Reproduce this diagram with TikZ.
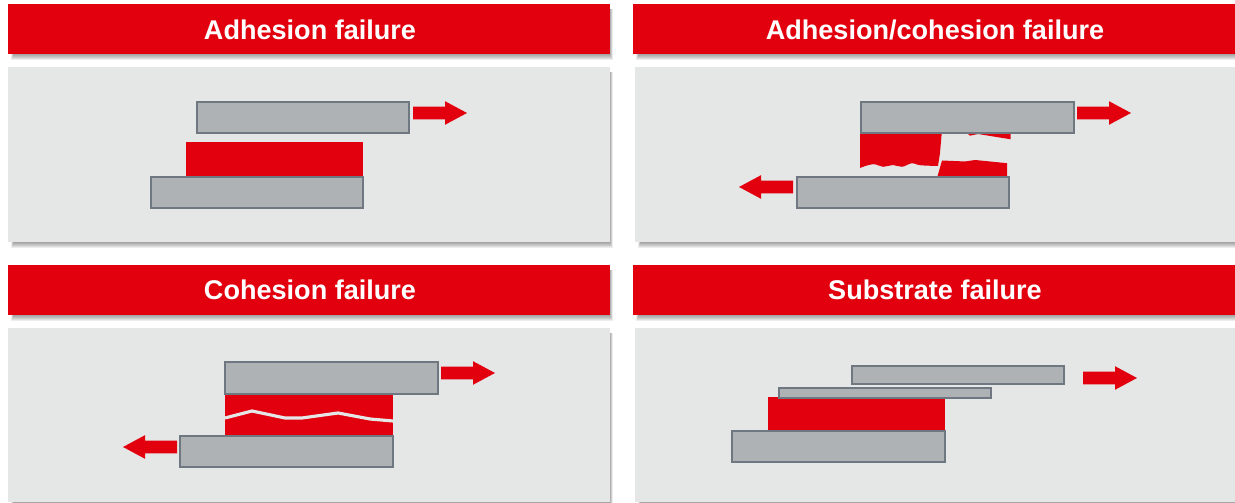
\documentclass[tikz,border=0pt]{standalone}
\usepackage{fontspec}
\setmainfont{Liberation Sans}
\definecolor{adhred}{HTML}{E2000F}
\definecolor{panelgray}{HTML}{E5E7E6}
\definecolor{barfill}{HTML}{AEB2B5}
\definecolor{baredge}{HTML}{6F7880}
\tikzset{
  titletext/.style={text=white, font=\fontsize{7.7}{9}\selectfont\bfseries},
  substrate/.style={fill=barfill, draw=baredge, line width=0.5pt},
  glue/.style={fill=adhred, draw=none},
  crack/.style={draw=panelgray, line width=0.9pt},
}
% soft shadow, then the box on top
\newcommand{\shadowbox}[5]{
  \foreach \i in {1,...,6}
    \fill [black, opacity=0.07] (#1+0.03+0.004*\i,#2+0.05) rectangle (#3+0.036-0.006*\i,#4+0.066-0.01*\i);
  \fill [#5] (#1,#2) rectangle (#3,#4);
}
% x, y of the tip, direction (1 points right, -1 left)
\newcommand{\pullarrow}[3]{
  \fill [adhred, shift={(#1,#2)}, xscale=#3] (0,0) -- (-0.22,-0.118) -- (-0.22,-0.063) -- (-0.54,-0.063) -- (-0.54,0.063) -- (-0.22,0.063) -- (-0.22,0.118) -- cycle;
}
\begin{document}
\begin{tikzpicture}[y=-1cm]
\useasboundingbox (0,0) rectangle (12.35,5.03);

% headers
\shadowbox{0.08}{0.04}{6.10}{0.54}{adhred}
\shadowbox{6.33}{0.04}{12.35}{0.54}{adhred}
\shadowbox{0.08}{2.65}{6.10}{3.15}{adhred}
\shadowbox{6.33}{2.65}{12.35}{3.15}{adhred}
\node [titletext] (adhesion) at (3.10,0.30) {Adhesion failure};
\node [titletext] (mixed) at (9.35,0.30) {Adhesion/cohesion failure};
\node [titletext] (cohesion) at (3.10,2.90) {Cohesion failure};
\node [titletext] (substr) at (9.35,2.90) {Substrate failure};

% panels
\shadowbox{0.08}{0.67}{6.10}{2.42}{panelgray}
\shadowbox{6.35}{0.67}{12.35}{2.42}{panelgray}
\shadowbox{0.08}{3.28}{6.10}{5.02}{panelgray}
\shadowbox{6.35}{3.28}{12.35}{5.02}{panelgray}

% adhesion
\fill [glue] (1.86,1.42) rectangle (3.63,1.77);
\draw [substrate] (1.97,1.02) rectangle (4.09,1.33);
\draw [substrate] (1.51,1.77) rectangle (3.63,2.08);
\pullarrow{4.67}{1.13}{1}

% adhesion/cohesion
\fill [glue] (8.60,1.30) -- (9.42,1.30) -- (9.40,1.53) -- (9.38,1.66) -- plot[smooth, tension=.7] coordinates {(9.38,1.66) (9.20,1.652) (9.12,1.632) (9.02,1.668) (8.93,1.65) (8.83,1.668) (8.73,1.642) (8.60,1.68)} -- cycle;
\fill [glue] (9.65,1.30) -- (9.68,1.34) -- (9.70,1.357) -- (9.78,1.34) -- (10.107,1.393) -- (10.107,1.30) -- cycle;
\fill [glue] (9.42,1.605) -- (9.65,1.615) -- (9.75,1.60) -- (10.07,1.632) -- (10.07,1.78) -- (9.37,1.78) -- cycle;
\draw [substrate] (8.61,1.02) rectangle (10.74,1.33);
\draw [substrate] (7.97,1.77) rectangle (10.09,2.08);
\pullarrow{11.31}{1.13}{1}
\pullarrow{7.39}{1.87}{-1}

% cohesion
\fill [glue] (2.25,3.93) rectangle (3.93,4.37);
\draw [crack] (2.25,4.18) -- (2.52,4.11) -- (2.85,4.18) -- (3.02,4.18) -- (3.38,4.13) -- (3.70,4.19) -- (3.93,4.21);
\draw [substrate] (2.25,3.62) rectangle (4.38,3.94);
\draw [substrate] (1.80,4.36) rectangle (3.93,4.67);
\pullarrow{4.95}{3.73}{1}
\pullarrow{1.23}{4.47}{-1}

% substrate
\fill [glue] (7.68,3.97) rectangle (9.45,4.31);
\draw [substrate] (8.52,3.66) rectangle (10.64,3.84);
\draw [substrate] (7.79,3.88) rectangle (9.91,3.98);
\draw [substrate] (7.32,4.31) rectangle (9.45,4.62);
\pullarrow{11.37}{3.78}{1}

\end{tikzpicture}
\end{document}
